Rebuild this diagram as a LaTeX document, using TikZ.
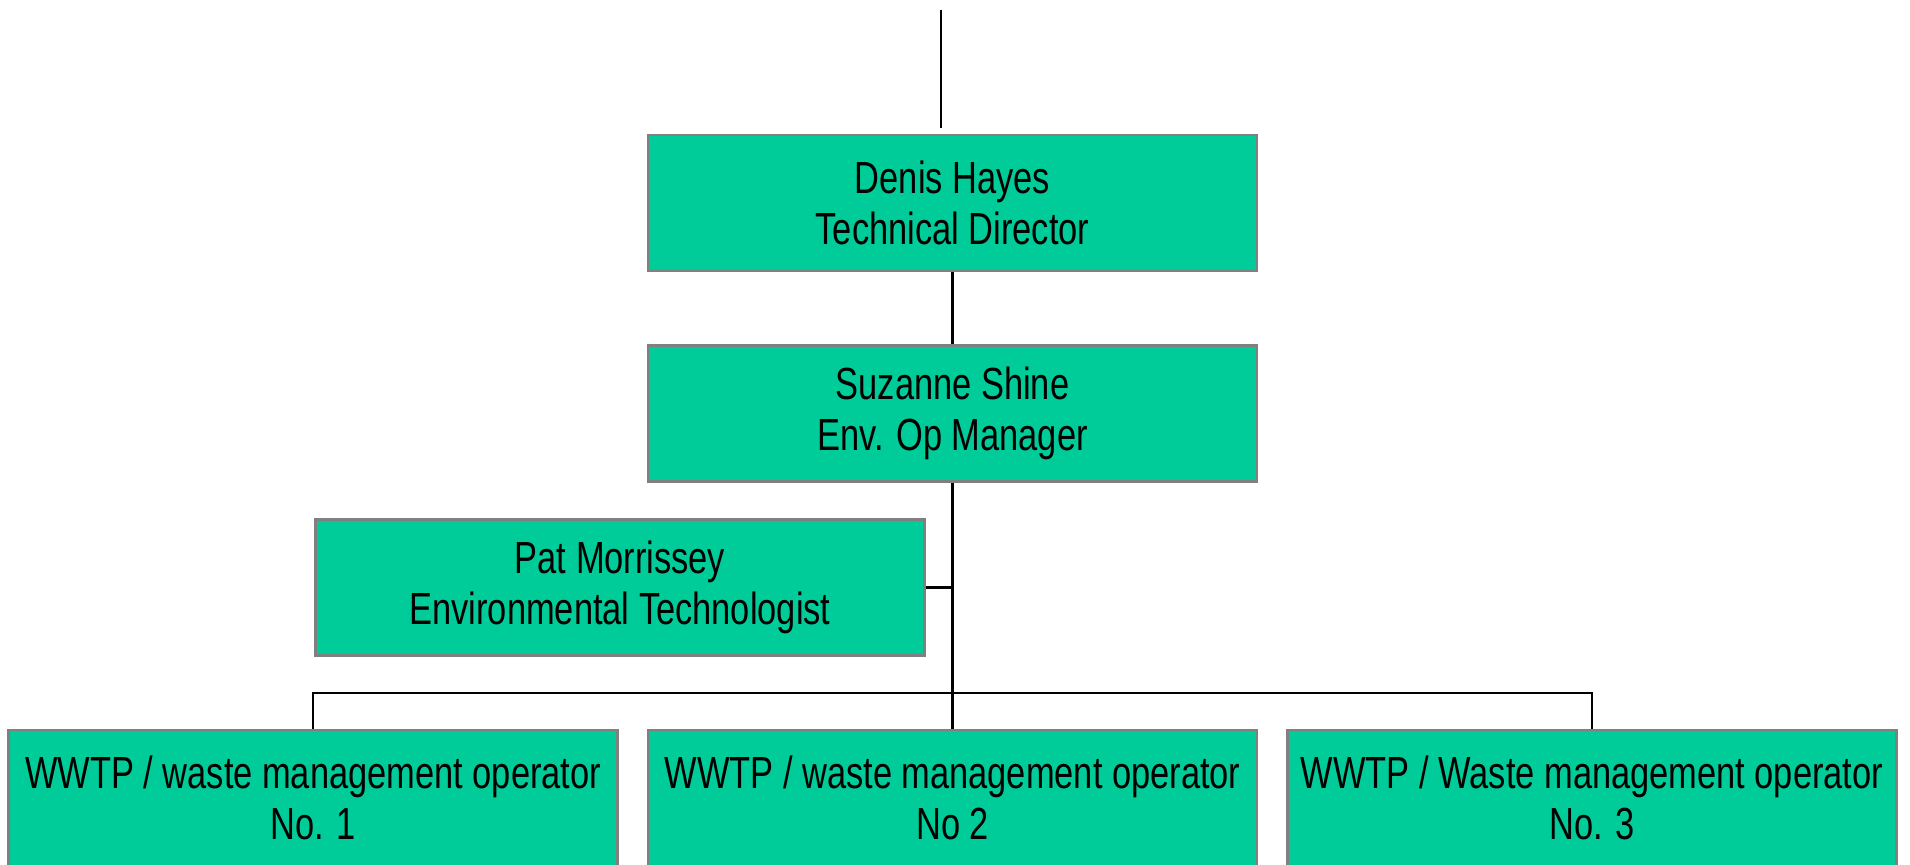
\documentclass[tikz,border=0pt]{standalone}
\usepackage{fontspec}
\setmainfont[FakeStretch=0.765]{Liberation Sans}
\usetikzlibrary{positioning}
\definecolor{boxgreen}{RGB}{0,204,153}
\definecolor{boxedge}{RGB}{128,128,128}

\begin{document}
\begin{tikzpicture}[%
        x=0.5pt, y=-0.5pt,
        every node/.style={rectangle, fill=boxgreen, draw=boxedge, line width=1.2pt,
          minimum width=304.5pt, minimum height=68pt, inner sep=0pt, align=center,
          font=\fontsize{22.5}{25.5}\selectfont},
        link/.style={draw=black, line width=1.2pt},
        node distance=14pt
      ]
      \useasboundingbox (0,0) rectangle (1910,864);
      \node [] (denis) at (952.5,203) {Denis Hayes\\Technical Director};
      \node [] (suzanne) [below=36pt of denis] {Suzanne Shine\\Env. Op Manager};
      \node [] (pat) at (620,587.5) {Pat Morrissey\\Environmental Technologist};
      \node [] (op2) at (952.5,798) {WWTP / waste management operator\\No 2};
      \node [] (op1) [left=of op2] {WWTP / waste management operator\\No. 1};
      \node [] (op3) [right=of op2] {WWTP / Waste management operator\\No. 3};
      \coordinate (topA) at (941,10);
      \coordinate (topB) at (941,128);
      \coordinate (bus) at (952.5,693);
      \path [link] (topA) -- (topB)
      (denis) -- (suzanne)
      (suzanne) -- (op2)
      (pat.east) -- (pat.east -| suzanne.south)
      (op1.north) |- (bus) -| (op3.north);
    \end{tikzpicture}
\end{document}
